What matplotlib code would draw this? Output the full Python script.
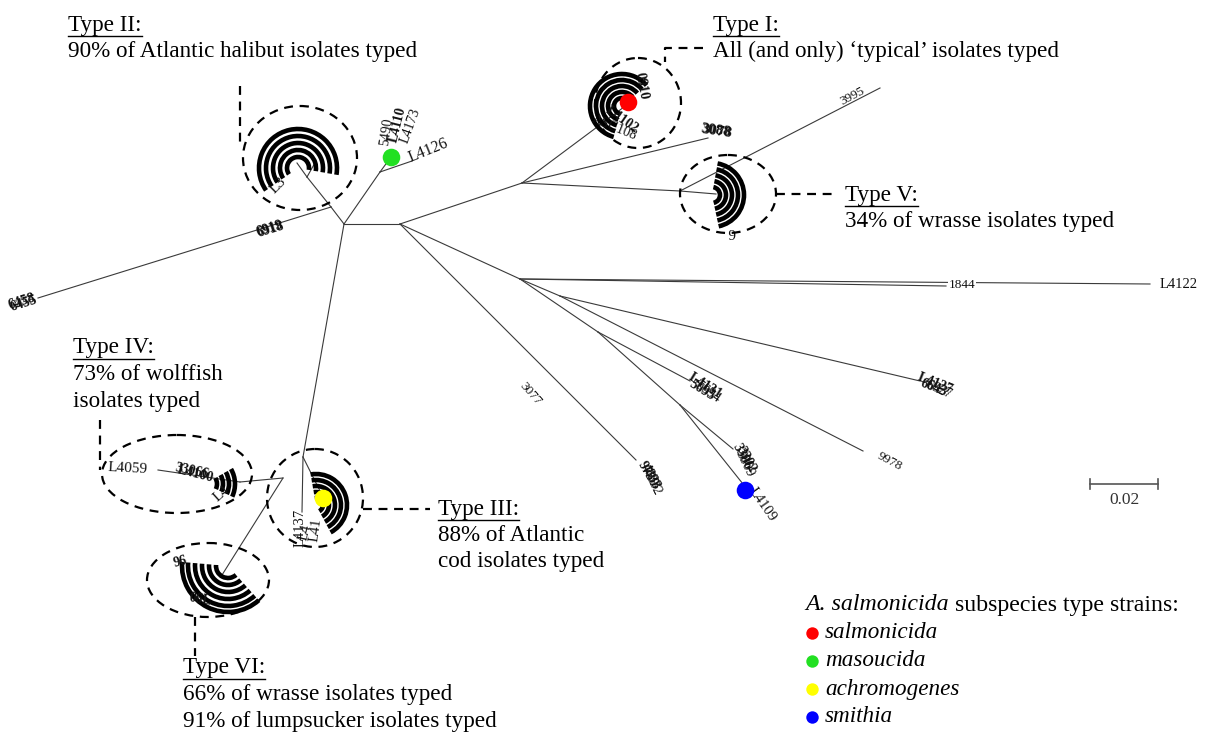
import matplotlib.pyplot as plt
from matplotlib.patches import Ellipse, Arc

plt.rcParams['font.family'] = ['Liberation Serif', 'DejaVu Serif']

# tree nodes (layout position in px, parent index)
node_x = [344, 400, 331, 307, 297, 316, 38, 380, 391, 412,
          303, 323, 302, 283, 240, 158, 222, 522, 624, 708,
          680, 716, 880, 520, 1150, 946, 560, 920, 863, 598,
          690, 680, 733, 743, 636]
node_y = [224, 224, 207, 177, 163, 161, 298, 172, 157, 161,
          457, 497, 512, 478, 482, 470, 575, 183, 107, 138,
          191, 194, 88, 279, 284, 286, 296, 381, 451, 332,
          381, 405, 449, 484, 460]
parent = [-1, 0, 0, 2, 3, 3, 2, 0, 7, 7,
          0, 10, 10, 13, 13, 14, 13, 1, 17, 17,
          17, 20, 20, 1, 23, 23, 23, 26, 26, 23,
          29, 29, 31, 31, 1]

# leaf labels: text, x, y, rotation, size, bold
leaf_text = ['6458', '6455', '6919', '6918', '3995', '3088', '3078', '1844', 'L4122',
             'L4127', '6643', '6627', '9978', 'L4131', '5695', '5694', '3306', '3302',
             '3309', 'L4109', '9739', '4833', '4832', '3077', 'L4126', '5490', 'L4110',
             'L4173', 'L4137', 'L41', 'L4', 'L4059', '33066', 'L4100', 'L4', '0910',
             'ASC108', 'L4102', '6', '96', '06L', 'L3']
leaf_x = [22, 24, 270, 271, 852, 716, 717, 962, 1160,
          935, 934, 938, 890, 705, 702, 707, 742, 746,
          744, 762, 648, 650, 652, 530, 428, 387, 398,
          410, 300, 316, 305, 128, 192, 196, 222, 641,
          614, 622, 732, 180, 200, 278]
leaf_y = [302, 304, 229, 230, 96, 131, 132, 285, 284,
          384, 388, 390, 462, 386, 390, 392, 456, 460,
          464, 505, 474, 477, 482, 394, 150, 132, 125,
          126, 528, 530, 532, 469, 471, 474, 494, 86,
          128, 120, 232, 562, 600, 186]
leaf_rot = [17, 17, 17, 17, 28, -8, -8, 0, 0,
            -22, -22, -25, -28, -32, -32, -35, -62, -62,
            -64, -55, -60, -62, -64, -48, 22, 82, 76,
            70, 90, 82, 76, -3, -12, -14, 42, -80,
            -22, -35, 180, 15, -10, 45]
leaf_size = [10, 10, 10, 10, 9.5, 11, 11, 9.5, 10.5,
             10, 10, 10, 9.5, 10, 10, 10, 10, 10,
             10, 10.5, 10, 10, 10, 9.5, 11.5, 10, 10,
             10, 10.5, 10.5, 10.5, 11, 10, 10, 11, 10,
             10, 10, 11, 10, 10, 11]
leaf_bold = [1, 1, 1, 1, 0, 1, 1, 0, 0,
             1, 1, 0, 0, 1, 1, 0, 1, 1,
             0, 0, 1, 1, 0, 0, 0, 0, 1,
             0, 0, 0, 0, 0, 1, 1, 0, 1,
             0, 1, 0, 1, 1, 0]

# overlapped label blobs drawn as concentric arcs: centre, radii, screen angles
fan_cx = [298, 622, 712, 316, 205, 228]
fan_cy = [168, 106, 195, 505, 484, 566]
fan_r = [[11, 18, 25, 32, 39], [8, 14, 20, 26, 32], [8, 14, 20, 26, 32],
         [7, 13, 19, 25, 31], [12, 18, 24, 30], [12, 19, 26, 33, 40, 46]]
fan_a1 = [-10, 40, -78, -62, -25, 175]
fan_a2 = [215, 255, 80, 100, 30, 312]

# dashed groupings: centre, width, height
grp_cx = [300, 638, 728, 315, 177, 208]
grp_cy = [158, 103, 194, 498, 474, 580]
grp_w = [114, 86, 96, 96, 150, 122]
grp_h = [104, 90, 78, 98, 78, 74]

lead_x = [[240, 240], [703, 665, 665], [776, 836], [100, 100], [363, 430], [195, 195]]
lead_y = [[86, 142], [48, 48, 62], [194, 194], [420, 470], [509, 509], [617, 656]]

type_names = ['Type II:', 'Type I:', 'Type V:', 'Type IV:', 'Type III:', 'Type VI:']
type_lines = [['90% of Atlantic halibut isolates typed'],
              ['All (and only) \u2018typical\u2019 isolates typed'],
              ['34% of wrasse isolates typed'],
              ['73% of wolffish', 'isolates typed'],
              ['88% of Atlantic', 'cod isolates typed'],
              ['66% of wrasse isolates typed', '91% of lumpsucker isolates typed']]
type_x = [68, 713, 845, 73, 438, 183]
type_y = [25, 25, 195, 348, 509, 668]

# subspecies type strains
strain_names = ['salmonicida', 'masoucida', 'achromogenes', 'smithia']
strain_colors = ['#ff0000', '#22e022', '#ffff00', '#0000ff']
strain_node = [18, 8, 11, 33]
strain_dx = [4, 0, 0, 2]
strain_dy = [-5, 0, 1, 6]

scale_len = 0.02
px_per_unit = 3400
fs = 16.7

fig = plt.figure(figsize=(12.1, 7.33), dpi=100)
ax = fig.add_axes([0, 0, 1, 1])
ax.set_xlim(0, 1210)
ax.set_ylim(733, 0)
ax.axis('off')

for i, p in enumerate(parent):
    if p < 0:
        continue
    ax.plot([node_x[p], node_x[i]], [node_y[p], node_y[i]], color='#3a3a3a', lw=0.8, zorder=2)

for cx, cy, rs, a1, a2 in zip(fan_cx, fan_cy, fan_r, fan_a1, fan_a2):
    for r in rs:
        ax.add_patch(Arc((cx, cy), 2 * r, 2 * r, theta1=-a2, theta2=-a1,
                         color='black', lw=3.3, zorder=3))

for t, x, y, rot, s, b in zip(leaf_text, leaf_x, leaf_y, leaf_rot, leaf_size, leaf_bold):
    kw = {}
    if t == '1844':
        kw['bbox'] = dict(fc='white', ec='none', pad=0.5)
    ax.text(x, y, t, rotation=rot, fontsize=s, fontweight='bold' if b else 'normal',
            ha='left' if t == 'L4122' else 'center', va='center', color='#111111',
            rotation_mode='anchor', zorder=4, **kw)

for cx, cy, w, h in zip(grp_cx, grp_cy, grp_w, grp_h):
    ax.add_patch(Ellipse((cx, cy), w, h, fill=False, ec='black', lw=1.6,
                         ls=(0, (4, 3)), zorder=5))

for xs, ys in zip(lead_x, lead_y):
    ax.plot(xs, ys, color='black', lw=1.6, ls=(0, (4, 3)), zorder=5)

heads = []
for name, lines, x, y in zip(type_names, type_lines, type_x, type_y):
    heads.append(ax.text(x, y, name, fontsize=fs, ha='left', va='center'))
    for k, ln in enumerate(lines):
        ax.text(x, y + 26.5 * (k + 1), ln, fontsize=fs, ha='left', va='center')

for n, c, dx, dy in zip(strain_node, strain_colors, strain_dx, strain_dy):
    ax.scatter(node_x[n] + dx, node_y[n] + dy, s=160, color=c, zorder=6, linewidths=0)

# legend
leg_head = ax.text(805, 605, 'A. salmonicida', fontsize=fs + 0.5, style='italic',
                   ha='left', va='center')
for k, (nm, c) in enumerate(zip(strain_names, strain_colors)):
    yy = 633 + 28 * k
    ax.scatter(812, yy, s=80, color=c, linewidths=0, zorder=6)
    ax.text(825, yy, nm, fontsize=fs, style='italic', ha='left', va='center')

# scale bar
x0 = 1090
x1 = x0 + scale_len * px_per_unit
ax.plot([x0, x1], [484, 484], color='#555555', lw=1.2)
ax.plot([x0, x0], [479, 489], color='#555555', lw=1.2)
ax.plot([x1, x1], [479, 489], color='#555555', lw=1.2)
ax.text((x0 + x1) / 2, 500, '%.2f' % scale_len, fontsize=12.5, ha='center', va='center',
        color='#333333')

# underline the type headings, finish the legend heading
fig.canvas.draw()
inv = ax.transData.inverted()
for h, y in zip(heads, type_y):
    bb = h.get_window_extent()
    (xa, _), (xb, _) = inv.transform([(bb.x0, bb.y0), (bb.x1, bb.y0)])
    ax.plot([xa, xb], [y + 11, y + 11], color='black', lw=1.0)
bb = leg_head.get_window_extent()
xe = inv.transform([(bb.x1, bb.y0)])[0][0]
ax.text(xe + 6, 605, 'subspecies type strains:', fontsize=fs + 0.5, ha='left', va='center')

plt.savefig('out.png', dpi=100)
